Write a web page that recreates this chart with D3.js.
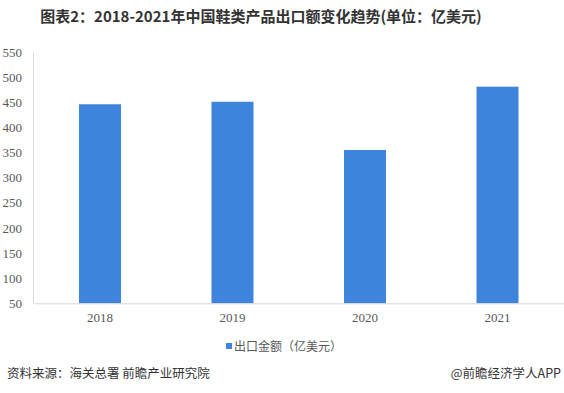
<!DOCTYPE html>
<html><head><meta charset="utf-8">
<script src="https://cdn.jsdelivr.net/npm/d3@7"></script>
<style>body{margin:0;background:#fff}</style>
</head><body>
<svg id="c" width="564" height="393"></svg>
<script>
const categories = ["2018", "2019", "2020", "2021"];
const values = [446, 451, 355, 481];
const yTicks = [50, 100, 150, 200, 250, 300, 350, 400, 450, 500, 550];
const title = "图表2：2018-2021年中国鞋类产品出口额变化趋势(单位：亿美元)";
const legendLabel = "出口金额（亿美元）";
const source = "资料来源：海关总署 前瞻产业研究院";
const credit = "@前瞻经济学人APP";

const svg = d3.select("#c");
const x = d3.scaleBand().domain(categories).range([33.75, 563.75]).paddingInner(0.683).paddingOuter(0.3415);
const y = d3.scaleLinear().domain([50, 550]).range([303.3, 52]);

svg.append("text").attr("x", 261).attr("y", 22).attr("text-anchor", "middle")
  .attr("font-family", "'Noto Sans CJK SC', sans-serif").attr("font-weight", "bold")
  .attr("font-size", 15).attr("fill", "#333").text(title);

// y axis
const ya = svg.append("g").attr("transform", "translate(33,0)")
  .call(d3.axisLeft(y).tickValues(yTicks).tickSize(0).tickPadding(11));
ya.select(".domain").attr("stroke", "#d9d9d9");
ya.selectAll("text").attr("font-family", "'Liberation Serif', serif").attr("font-size", 13).attr("fill", "#595959");

// bars
svg.append("g").selectAll("rect").data(values).join("rect")
  .attr("x", (d, i) => x(categories[i])).attr("width", x.bandwidth())
  .attr("y", d => y(d)).attr("height", d => y(50) - y(d)).attr("fill", "#3f84dc");

// x axis
const xa = svg.append("g").attr("transform", "translate(0,303.3)")
  .call(d3.axisBottom(x).tickSize(0).tickPadding(9).tickSizeOuter(0));
xa.select(".domain").attr("stroke", "#d9d9d9");
xa.selectAll("text").attr("font-family", "'Liberation Serif', serif").attr("font-size", 13).attr("fill", "#595959");

// legend
svg.append("rect").attr("x", 226).attr("y", 343).attr("width", 6).attr("height", 6).attr("fill", "#3f84dc");
svg.append("text").attr("x", 234).attr("y", 350.5).attr("font-family", "'Noto Sans CJK SC', sans-serif")
  .attr("font-size", 12).attr("fill", "#595959").text(legendLabel);

// footer
svg.append("text").attr("x", 7).attr("y", 378).attr("font-family", "'Noto Sans CJK SC', sans-serif")
  .attr("font-size", 12.5).attr("fill", "#333").text(source);
svg.append("text").attr("x", 561).attr("y", 378).attr("text-anchor", "end").attr("font-family", "'Noto Sans CJK SC', sans-serif")
  .attr("font-size", 12.5).attr("fill", "#333").text(credit);
</script>
</body></html>
